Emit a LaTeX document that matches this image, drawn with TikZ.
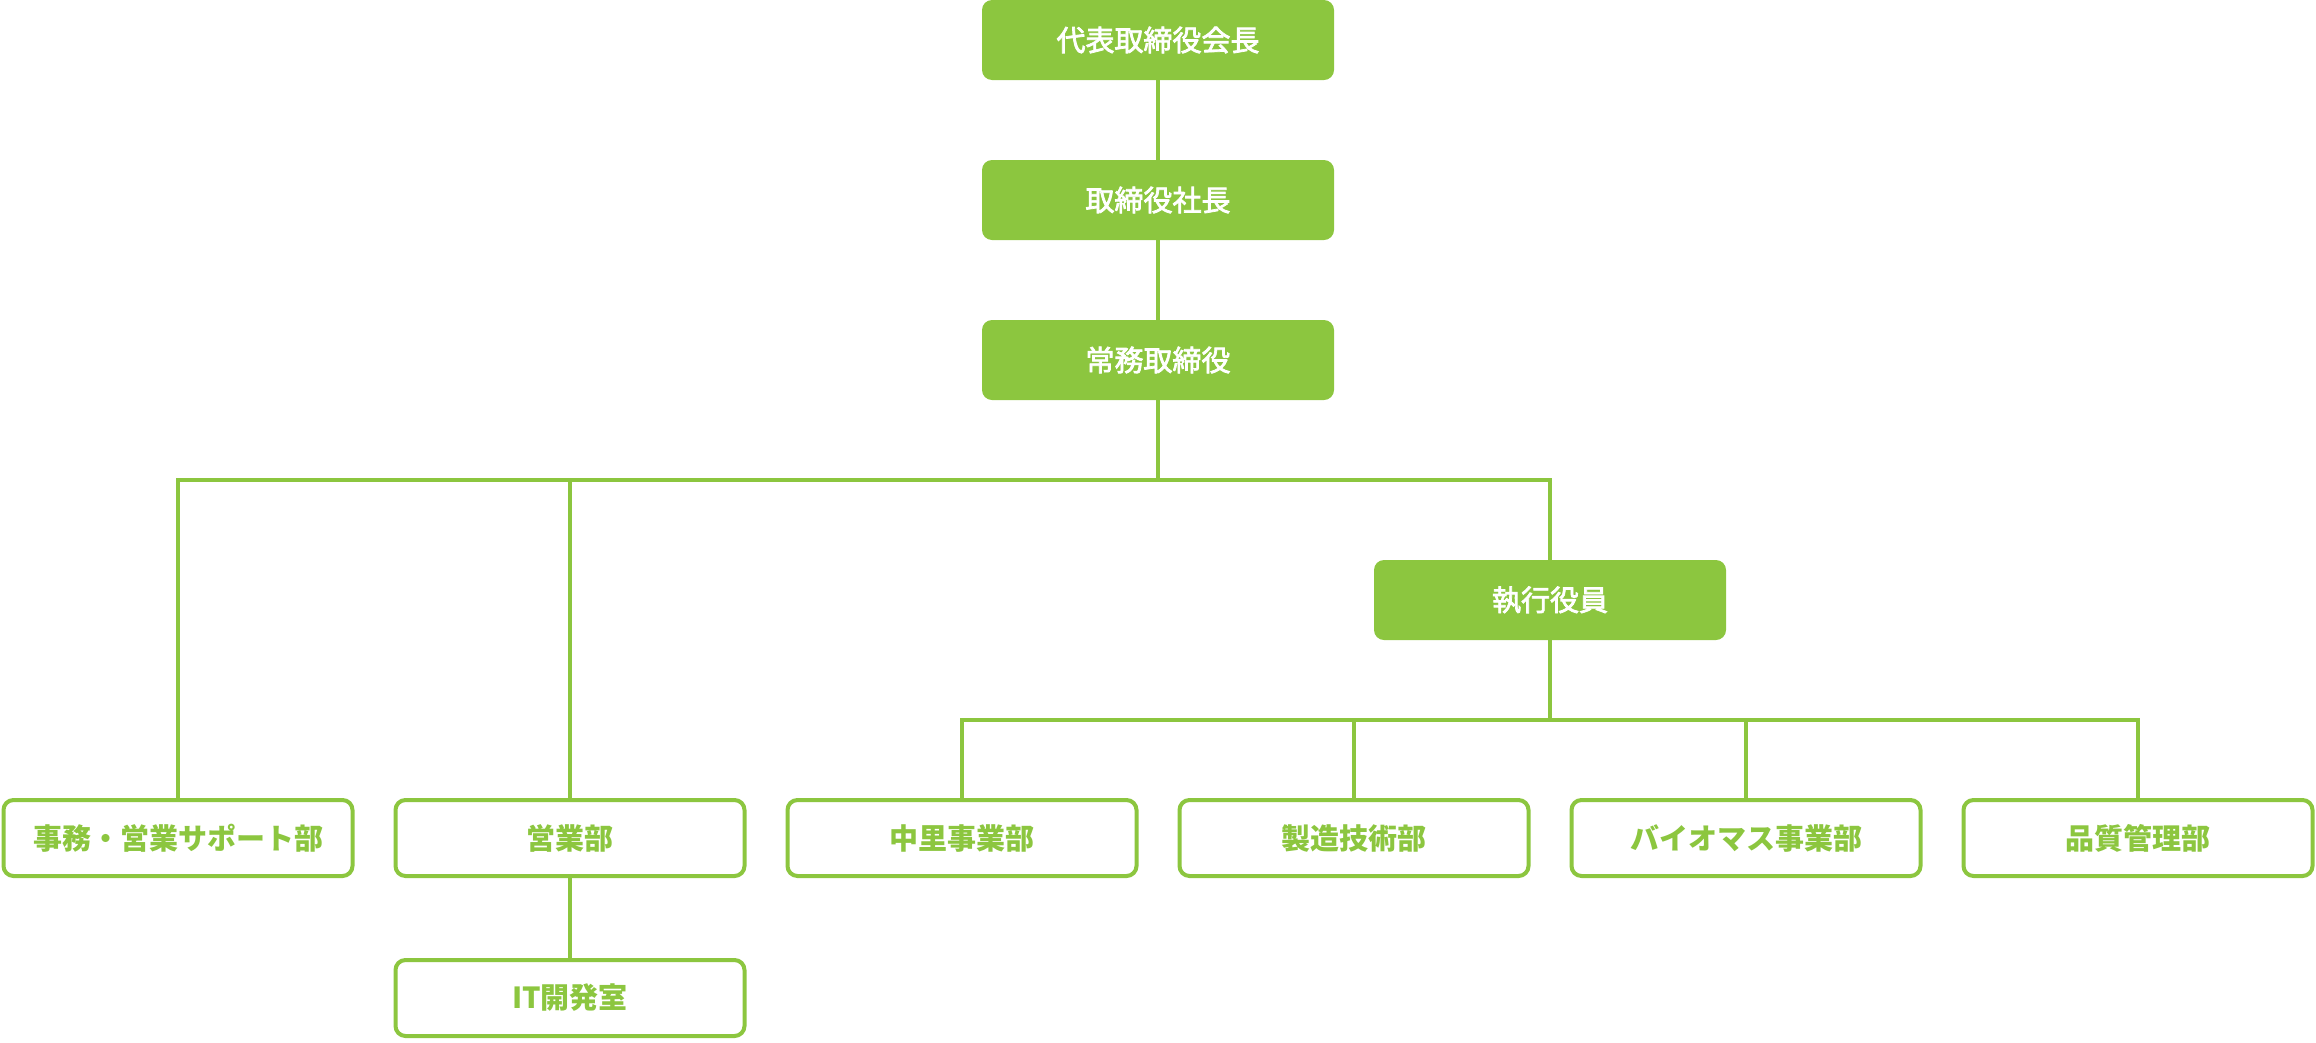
\documentclass[tikz,border=0pt]{standalone}
\usepackage{fontspec}
\newfontfamily\jpfont[FakeBold=2.5]{Noto Sans CJK JP}
\newfontfamily\jpdept{Noto Sans CJK JP}
\usepackage{xcolor}
\definecolor{leaf}{HTML}{8CC63F}

\begin{document}
\begin{tikzpicture}[x=1pt, y=-1pt, font=\jpfont\fontsize{29}{34}\selectfont]
\tikzset{headbox/.style={fill=leaf, text=white, rounded corners=10pt, minimum width=352pt, minimum height=80pt, inner sep=0pt, align=center} }
\tikzset{deptbox/.style={draw=leaf, line width=4pt, fill=white, text=leaf, font=\jpdept\bfseries\fontsize{29}{34}\selectfont, rounded corners=10pt, minimum width=349pt, minimum height=76pt, inner sep=0pt, align=center} }
\tikzset{link/.style={draw=leaf, line width=3.5pt} }
\useasboundingbox (0,0) rectangle (2316,1042);
% top of the chart
\node[headbox] (chair) at (1158,40)  {代表取締役会長};
\node[headbox] (pres) at (1158,200)  {取締役社長};
\node[headbox] (senior) at (1158,360) {常務取締役};
\node[headbox] (exec) at (1550,600)  {執行役員};
% departments
\node[deptbox] (admin) at (178,838)  {事務・営業サポート部};
\node[deptbox] (sales) at (570,838)  {営業部};
\node[deptbox] (nakasato) at (962,838) {中里事業部};
\node[deptbox] (tech) at (1354,838)  {製造技術部};
\node[deptbox] (bio) at (1746,838)   {バイオマス事業部};
\node[deptbox] (quality) at (2138,838) {品質管理部};
\node[deptbox] (itdev) at (570,998)  {IT開発室};
\coordinate (bus1) at (1158,480);
\coordinate (bus2) at (1550,720);
\path[link] (chair) -- (pres);
\path[link] (pres) -- (senior);
\path[link] (senior) -- (bus1);
\path[link] (bus1) -| (admin);
\path[link] (bus1) -| (sales);
\path[link] (bus1) -| (exec);
\path[link] (exec) -- (bus2);
\path[link] (bus2) -| (nakasato);
\path[link] (bus2) -| (tech);
\path[link] (bus2) -| (bio);
\path[link] (bus2) -| (quality);
\path[link] (sales) -- (itdev);
\end{tikzpicture}
\end{document}
